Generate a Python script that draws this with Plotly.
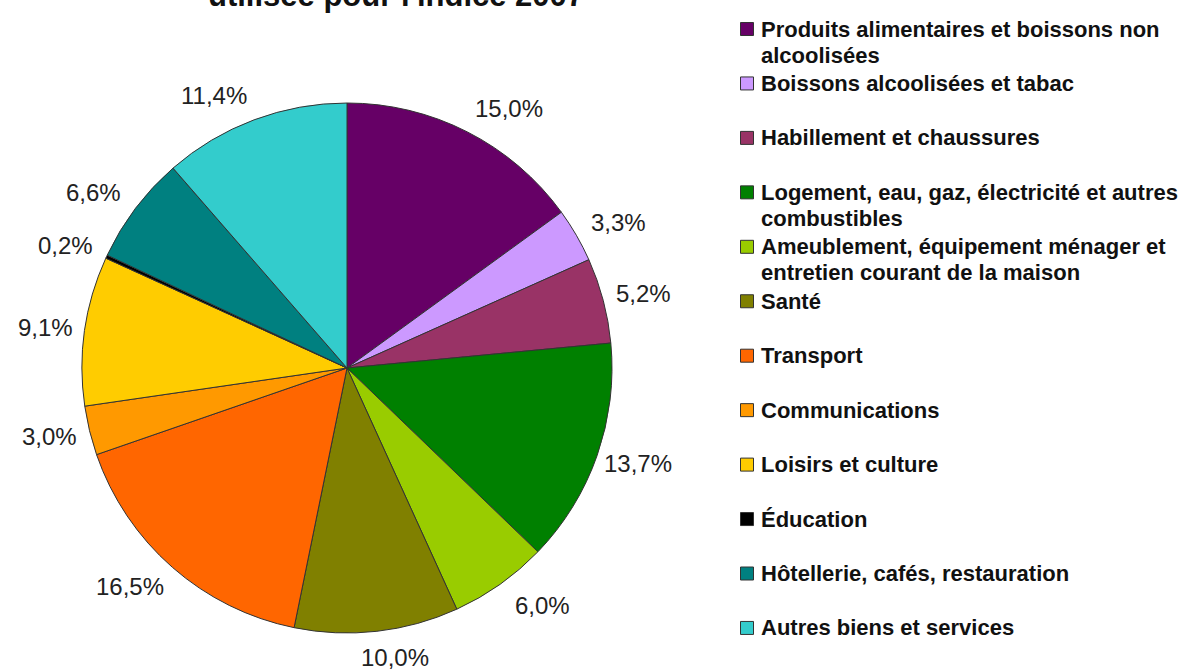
import numpy as np
import plotly.graph_objects as go

# ---- data ----
categories = [
    "Produits alimentaires et boissons non alcoolisées",
    "Boissons alcoolisées et tabac",
    "Habillement et chaussures",
    "Logement, eau, gaz, électricité et autres combustibles",
    "Ameublement, équipement ménager et entretien courant de la maison",
    "Santé",
    "Transport",
    "Communications",
    "Loisirs et culture",
    "Éducation",
    "Hôtellerie, cafés, restauration",
    "Autres biens et services",
]
legend_lines = [
    ["Produits alimentaires et boissons non", "alcoolisées"],
    ["Boissons alcoolisées et tabac"],
    ["Habillement et chaussures"],
    ["Logement, eau, gaz, électricité et autres", "combustibles"],
    ["Ameublement, équipement ménager et", "entretien courant de la maison"],
    ["Santé"],
    ["Transport"],
    ["Communications"],
    ["Loisirs et culture"],
    ["Éducation"],
    ["Hôtellerie, cafés, restauration"],
    ["Autres biens et services"],
]
values = [15.0, 3.3, 5.2, 13.7, 6.0, 10.0, 16.5, 3.0, 9.1, 0.2, 6.6, 11.4]
colors = ["#660066", "#CC99FF", "#993366", "#008000", "#99CC00", "#808000",
          "#FF6600", "#FF9900", "#FFCC00", "#000000", "#008080", "#33CCCC"]
title_text = "utilisée pour l'indice 2007"

# ---- layout geometry (pixels) ----
W, H = 1187, 671
CX, CY, R = 347, 368, 265
LABEL_R = 280
LEG_X, LEG_Y0, LEG_STEP, LINE_H = 747, 29, 54.45, 26
FONT = "Liberation Sans, Arial, sans-serif"

fig = go.Figure()

fig.add_trace(go.Pie(
    labels=categories,
    values=values,
    sort=False,
    direction="clockwise",
    rotation=0,
    textinfo="none",
    marker=dict(colors=colors, line=dict(color="#333333", width=1)),
    domain=dict(x=[(CX - R) / W, (CX + R) / W],
                y=[(H - CY - R) / H, (H - CY + R) / H]),
    showlegend=False,
    hoverinfo="label+percent",
))

# legend squares (custom legend with fixed slots)
leg_y = [LEG_Y0 + i * LEG_STEP for i in range(len(categories))]
fig.add_trace(go.Scatter(
    x=[LEG_X] * len(categories),
    y=leg_y,
    mode="markers",
    marker=dict(symbol="square", size=13, color=colors,
                line=dict(color="#333333", width=1)),
    hoverinfo="skip",
    showlegend=False,
))

annotations = []
# slice percentage labels, placed just outside each slice's mid-angle
vals = np.array(values)
cum = np.cumsum(vals)
mid = (cum - vals / 2) / vals.sum() * 2 * np.pi
for v, a in zip(values, mid):
    s, c = np.sin(a), np.cos(a)
    dx = np.sign(s) * (22 + 14 * abs(c)) * min(1.0, 4 * abs(s))
    dy = -11 * c
    annotations.append(dict(
        x=CX + LABEL_R * s + dx, y=CY - LABEL_R * c + dy,
        xref="x", yref="y",
        text=f"{v:.1f}".replace(".", ",") + "%",
        showarrow=False, xanchor="center", yanchor="middle",
        font=dict(family=FONT, size=24, color="#222222"),
    ))
# legend texts (one annotation per line for tight line spacing)
for lines, y in zip(legend_lines, leg_y):
    for k, line in enumerate(lines):
        annotations.append(dict(
            x=LEG_X + 12, y=y + k * LINE_H, xref="x", yref="y",
            text=line, showarrow=False, xanchor="left", yanchor="middle",
            align="left",
            font=dict(family=FONT, size=22, color="#111111", weight="bold"),
        ))
# title (upper part falls outside the picture, as in the reference)
annotations.append(dict(
    x=396 / W, y=1, xref="paper", yref="paper", yshift=5,
    text=title_text, showarrow=False, xanchor="center", yanchor="middle",
    font=dict(family=FONT, size=31, color="#111111", weight="bold"),
))

fig.update_layout(
    width=W, height=H,
    margin=dict(l=0, r=0, t=0, b=0),
    paper_bgcolor="white", plot_bgcolor="white",
    xaxis=dict(range=[0, W], visible=False, fixedrange=True, domain=[0, 1]),
    yaxis=dict(range=[H, 0], visible=False, fixedrange=True, domain=[0, 1]),
    annotations=annotations,
)

fig.write_html("out.html", config={"displayModeBar": False},
               post_script="document.body.style.margin='0px';")
